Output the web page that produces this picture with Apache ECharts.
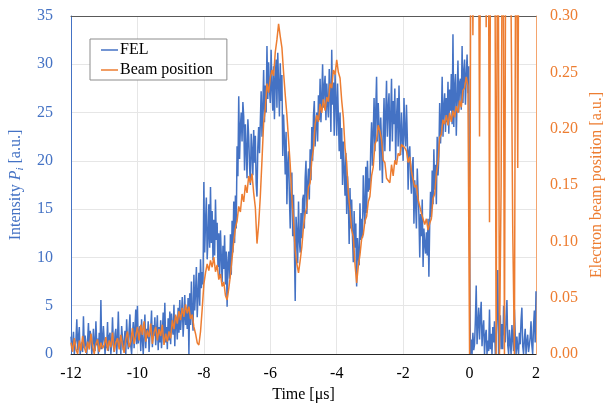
<!DOCTYPE html>
<html><head><meta charset="utf-8">
<script src="https://cdn.jsdelivr.net/npm/echarts@6/dist/echarts.min.js"></script>
<style>html,body{margin:0;padding:0;background:#fff}#c{width:605px;height:406px}</style>
</head><body><div id="c"></div>
<script>
// sampling of the time axis (µs)
const timeStart = -12;
const felStep = 0.025;
const beamStep = 0.05;

// axis ticks
const xTicks = {min: -12, max: 2, interval: 2};
const leftTicks = {min: 0, max: 35, interval: 5};
const rightTicks = {min: 0, max: 0.30, interval: 0.05};

// FEL intensity (left axis), one value per 0.025 µs from -12 to 2
const felValues = [
  1.8, 0.3, 1.1, 2.3, 0.0, 0.9, 1.5, 3.6, 0.4, 1.7, 2.8, 0.0, 0.6, 1.2, 0.2, 3.9, 0.6, 1.9, 2.1, 0.0,
  1.4, 3.2, 0.8, 2.4, 1.9, 0.0, 0.7, 2.6, 1.1, 0.3, 3.4, 0.9, 1.6, 0.0, 2.2, 0.5, 5.6, 0.5, 1.3, 2.9,
  2.7, 0.0, 1.4, 0.6, 3.3, 0.3, 1.8, 2.2, 0.0, 1.0, 3.8, 1.0, 0.2, 2.1, 2.6, 0.0, 1.5, 4.4, 0.9, 1.7,
  0.0, 2.9, 3.1, 0.4, 1.2, 2.4, 0.0, 3.6, 1.4, 0.5, 2.5, 4.1, 0.8, 0.0, 1.9, 3.3, 0.6, 2.7, 4.6, 1.0,
  5.0, 1.1, 2.2, 2.9, 0.3, 3.6, 1.5, 0.0, 2.0, 4.1, 0.6, 2.6, 1.6, 3.4, 0.2, 1.8, 2.5, 4.5, 0.7, 3.0,
  1.9, 3.8, 0.9, 2.3, 4.0, 0.4, 2.8, 1.2, 3.5, 0.6, 2.1, 4.3, 1.5, 5.3, 1.2, 2.8, 0.5, 3.7, 1.4, 4.4,
  1.0, 4.2, 2.6, 2.0, 5.1, 0.8, 3.9, 3.3, 1.5, 4.8, 2.2, 5.6, 2.5, 4.0, 5.9, 1.8, 3.6, 6.1, 3.0, 4.6,
  2.6, 5.8, 0.0, 6.3, 3.0, 7.5, 4.1, 2.4, 8.2, 4.5, 6.4, 9.0, 3.8, 6.2, 8.4, 5.0, 9.8, 6.8, 8.5, 7.2,
  17.8, 10.5, 13.6, 16.2, 9.8, 12.0, 15.5, 11.0, 17.3, 11.5, 14.8, 9.7, 13.9, 10.2, 16.0, 11.8, 13.6, 9.0, 12.5, 8.0,
  12.8, 10.1, 7.4, 11.2, 8.8, 12.3, 7.2, 10.6, 4.9, 9.5, 10.6, 7.8, 12.4, 8.2, 13.8, 10.5, 15.8, 11.5, 16.4, 13.0,
  21.5, 18.4, 26.7, 20.2, 23.5, 25.0, 22.0, 26.1, 24.6, 19.0, 23.8, 21.2, 18.2, 24.3, 22.5, 19.6, 17.5, 22.8, 21.0, 18.5,
  23.2, 19.8, 22.6, 17.6, 16.3, 21.4, 23.5, 20.8, 21.0, 27.2, 22.5, 25.6, 29.4, 24.0, 27.8, 25.0, 31.9, 26.4, 30.2, 27.5,
  26.0, 31.5, 27.4, 25.2, 29.8, 24.3, 28.4, 30.5, 25.5, 31.2, 28.0, 24.6, 30.1, 26.2, 28.9, 20.5, 24.8, 22.1, 18.6, 23.0,
  15.5, 19.5, 21.0, 16.4, 13.0, 17.5, 18.8, 12.2, 16.5, 11.4, 5.5, 14.2, 12.6, 9.4, 15.8, 11.8, 10.5, 14.6, 12.0, 16.0,
  16.5, 13.0, 18.2, 20.0, 14.5, 17.6, 19.2, 16.0, 21.2, 18.0, 23.5, 20.0, 24.7, 26.2, 21.5, 23.8, 25.0, 22.0, 26.8, 24.2,
  28.5, 24.0, 26.5, 30.0, 25.5, 27.6, 28.8, 24.2, 28.0, 26.0, 24.5, 29.5, 27.2, 23.0, 31.5, 25.8, 28.1, 22.6, 29.0, 26.3,
  22.6, 28.0, 24.5, 21.0, 25.0, 20.2, 23.4, 17.5, 22.0, 19.0, 16.4, 20.8, 14.5, 18.4, 16.0, 11.4, 17.2, 13.0, 16.0, 12.1,
  9.5, 14.8, 11.0, 13.5, 7.0, 12.0, 10.1, 9.2, 15.6, 11.8, 14.0, 12.0, 18.5, 15.2, 13.5, 19.4, 14.6, 20.0, 16.8, 18.2,
  17.0, 21.5, 24.0, 19.5, 23.0, 26.5, 21.0, 25.2, 28.7, 22.0, 26.0, 23.6, 19.0, 24.5, 21.8, 17.7, 23.0, 26.5, 21.0, 24.8,
  28.3, 22.5, 25.4, 27.0, 21.0, 24.6, 28.5, 22.0, 26.2, 23.8, 27.5, 20.0, 24.4, 26.5, 21.5, 27.8, 23.2, 20.6, 25.0, 22.5,
  20.0, 26.5, 23.0, 21.5, 25.8, 22.5, 17.0, 21.0, 21.5, 18.2, 16.6, 19.5, 20.4, 13.5, 18.0, 15.6, 13.0, 19.2, 16.6, 14.4,
  10.0, 14.5, 12.2, 16.0, 9.0, 13.0, 11.4, 10.4, 12.6, 10.2, 14.0, 8.0, 13.5, 16.8, 14.2, 19.0, 15.5, 21.2, 17.0, 19.6,
  15.5, 22.5, 18.5, 20.4, 26.0, 21.8, 24.2, 28.7, 22.5, 25.6, 27.0, 23.0, 26.5, 24.0, 28.2, 22.8, 27.4, 25.2, 29.0, 23.8,
  33.1, 23.5, 27.6, 29.0, 22.6, 26.4, 30.4, 25.0, 28.1, 28.5, 25.3, 31.9, 26.0, 29.2, 30.5, 25.8, 28.8, 31.0, 27.0, 29.8,
  12.0, 0.0, 1.5, 0.0, 2.2, 0.4, 1.0, 3.5, 7.1, 1.0, 3.2, 4.8, 1.5, 3.9, 5.4, 0.8, 2.6, 3.5, 0.0, 1.9,
  2.5, 0.0, 1.4, 0.3, 4.6, 0.5, 2.1, 0.0, 2.8, 1.2, 3.4, 0.0, 1.6, 4.2, 8.7, 0.0, 2.4, 4.0, 0.5, 3.1,
  0.5, 5.0, 2.2, 1.2, 3.8, 5.6, 0.9, 0.0, 2.5, 1.1, 0.0, 3.0, 1.6, 0.3, 4.6, 2.0, 0.0, 1.8, 0.6, 0.0,
  2.2, 1.0, 3.5, 4.8, 0.8, 0.0, 1.5, 2.6, 0.0, 1.3, 2.0, 0.2, 0.0, 1.7, 3.4, 0.9, 0.0, 2.8, 4.5, 1.2, 6.5
];

// Electron beam position (right axis), one value per 0.05 µs; values above 0.30 run off the top
const beamValues = [
  0.010, 0.002, 0.014, 0.004, 0.000, 0.012, 0.003, 0.016, 0.006, 0.001, 0.011, 0.004, 0.018, 0.007, 0.000, 0.009, 0.013, 0.002, 0.010, 0.005,
  0.008, 0.015, 0.003, 0.012, 0.006, 0.019, 0.002, 0.010, 0.014, 0.004, 0.017, 0.008, 0.001, 0.013, 0.020, 0.006, 0.011, 0.023, 0.009, 0.016,
  0.024, 0.012, 0.026, 0.017, 0.029, 0.011, 0.021, 0.015, 0.027, 0.009, 0.019, 0.024, 0.012, 0.022, 0.016, 0.026, 0.008, 0.018, 0.011, 0.020,
  0.014, 0.030, 0.022, 0.035, 0.027, 0.038, 0.030, 0.041, 0.033, 0.044, 0.036, 0.042, 0.031, 0.035, 0.024, 0.018, 0.010, 0.008, 0.020, 0.040,
  0.062, 0.072, 0.080, 0.074, 0.083, 0.077, 0.086, 0.073, 0.079, 0.066, 0.071, 0.060, 0.064, 0.052, 0.048, 0.058, 0.070, 0.085, 0.100, 0.112,
  0.118, 0.131, 0.126, 0.142, 0.135, 0.150, 0.143, 0.158, 0.152, 0.160, 0.143, 0.130, 0.098, 0.115, 0.140, 0.172, 0.205, 0.218, 0.240, 0.232,
  0.245, 0.252, 0.247, 0.268, 0.279, 0.293, 0.282, 0.272, 0.250, 0.230, 0.212, 0.190, 0.168, 0.138, 0.118, 0.092, 0.080, 0.072, 0.083, 0.095,
  0.113, 0.125, 0.130, 0.148, 0.152, 0.172, 0.182, 0.204, 0.212, 0.206, 0.222, 0.214, 0.226, 0.216, 0.228, 0.224, 0.240, 0.236, 0.252, 0.248,
  0.261, 0.250, 0.245, 0.225, 0.210, 0.183, 0.170, 0.142, 0.128, 0.110, 0.104, 0.080, 0.063, 0.078, 0.088, 0.102, 0.106, 0.118, 0.122, 0.135,
  0.140, 0.158, 0.166, 0.186, 0.190, 0.203, 0.198, 0.190, 0.172, 0.170, 0.156, 0.155, 0.152, 0.168, 0.158, 0.172, 0.168, 0.178, 0.176, 0.186,
  0.187, 0.183, 0.180, 0.170, 0.175, 0.162, 0.163, 0.148, 0.150, 0.137, 0.138, 0.125, 0.126, 0.115, 0.120, 0.110, 0.116, 0.120, 0.138, 0.142,
  0.160, 0.170, 0.192, 0.195, 0.208, 0.204, 0.212, 0.203, 0.214, 0.206, 0.216, 0.210, 0.220, 0.214, 0.225, 0.219, 0.234, 0.236, 0.246, 0.238,
  0.000, 0.500, 0.283, 0.500, 0.500, 0.500, 0.193, 0.500, 0.500, 0.500, 0.290, 0.500, 0.117, 0.500, 0.500, 0.500, 0.000, 0.500, 0.000, 0.150,
  0.500, 0.000, 0.500, 0.500, 0.500, 0.500, 0.109, 0.000, 0.500, 0.165, 0.500, 0.500, 0.500, 0.500, 0.500, 0.500, 0.500, 0.500, 0.500, 0.500, 0.500
];

const seriesNames = ['FEL', 'Beam position'];
const BLUE = '#4472C4', ORANGE = '#ED7D31';
const FONT = 'Liberation Serif';

const toPairs = (vals, step) => vals.map((v, i) => [+(timeStart + i * step).toFixed(3), v]);

const chart = echarts.init(document.getElementById('c'));
chart.setOption({
  animation: false,
  backgroundColor: '#fff',
  grid: {left: 71, right: 69, top: 16, bottom: 52, containLabel: false, outerBoundsMode: 'none'},
  legend: {
    left: 90, top: 39, orient: 'vertical',
    padding: [3, 14, 2, 11], itemGap: 4,
    itemWidth: 17, itemHeight: 1.5, icon: 'rect',
    borderColor: '#8c8c8c', borderWidth: 1, backgroundColor: '#fff',
    textStyle: {fontFamily: FONT, fontSize: 16, color: '#000', lineHeight: 16, padding: [0, 0, 0, -3]},
    data: seriesNames
  },
  xAxis: [{
    type: 'value', min: xTicks.min, max: xTicks.max, interval: xTicks.interval, position: 'bottom',
    axisLine: {show: true, onZero: false, lineStyle: {color: '#262626', width: 1}},
    axisTick: {show: false},
    axisLabel: {fontFamily: FONT, fontSize: 16, color: '#000', margin: 12},
    splitLine: {show: true, lineStyle: {color: '#e6e6e6', width: 1}},
    name: 'Time [μs]', nameLocation: 'middle', nameGap: 33,
    nameTextStyle: {fontFamily: FONT, fontSize: 16, color: '#000'}
  }, {
    type: 'value', min: xTicks.min, max: xTicks.max, position: 'top',
    axisLine: {show: true, onZero: false, lineStyle: {color: '#595959', width: 1}},
    axisTick: {show: false}, axisLabel: {show: false}, splitLine: {show: false}
  }],
  yAxis: [{
    type: 'value', min: leftTicks.min, max: leftTicks.max, interval: leftTicks.interval, position: 'left',
    axisLine: {show: true, onZero: false, lineStyle: {color: BLUE, width: 1}},
    axisTick: {show: false},
    axisLabel: {fontFamily: FONT, fontSize: 16, color: BLUE, margin: 18},
    splitLine: {show: true, lineStyle: {color: '#e6e6e6', width: 1}},
    name: 'Intensity {i|P}{s|i} [a.u.]', nameLocation: 'middle', nameGap: 45, nameRotate: 90,
    nameTextStyle: {
      fontFamily: FONT, fontSize: 16, color: BLUE, lineHeight: 20,
      rich: {
        i: {fontFamily: FONT, fontSize: 16, fontStyle: 'italic', color: BLUE, lineHeight: 20},
        s: {fontFamily: FONT, fontSize: 11, fontStyle: 'italic', color: BLUE, lineHeight: 11, verticalAlign: 'bottom'}
      }
    }
  }, {
    type: 'value', min: rightTicks.min, max: rightTicks.max, interval: rightTicks.interval, position: 'right',
    axisLine: {show: true, onZero: false, lineStyle: {color: '#F4A56E', width: 1}},
    axisTick: {show: false},
    axisLabel: {fontFamily: FONT, fontSize: 16, color: ORANGE, margin: 14, formatter: v => v.toFixed(2)},
    splitLine: {show: false},
    name: 'Electron beam position [a.u.]', nameLocation: 'middle', nameGap: 53, nameRotate: 90,
    nameTextStyle: {fontFamily: FONT, fontSize: 16, color: ORANGE}
  }],
  series: [{
    name: seriesNames[0], type: 'line', xAxisIndex: 0, yAxisIndex: 0,
    data: toPairs(felValues, felStep), showSymbol: false, symbol: 'none', clip: true,
    lineStyle: {color: BLUE, width: 1.5}, itemStyle: {color: BLUE}, z: 2
  }, {
    name: seriesNames[1], type: 'line', xAxisIndex: 0, yAxisIndex: 1,
    data: toPairs(beamValues, beamStep), showSymbol: false, symbol: 'none', clip: true,
    lineStyle: {color: ORANGE, width: 1.5}, itemStyle: {color: ORANGE}, z: 3
  }]
});
</script>
</body></html>
